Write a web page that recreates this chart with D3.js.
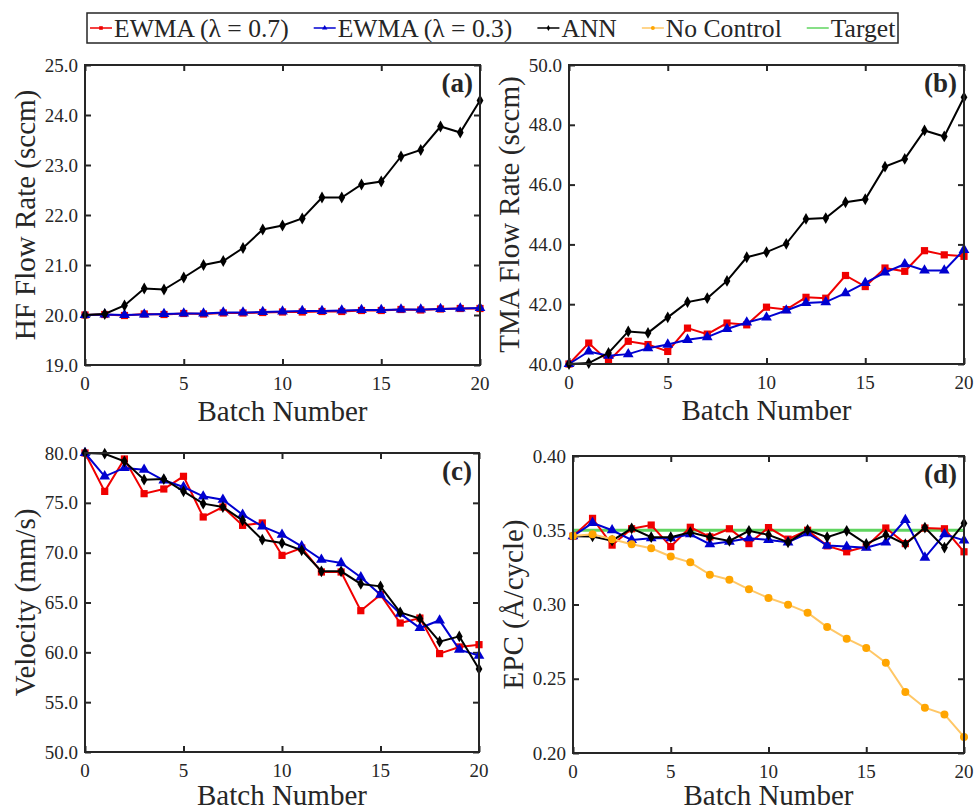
<!DOCTYPE html>
<html>
<head>
<meta charset="utf-8">
<script src="https://cdn.jsdelivr.net/npm/d3@7"></script>
<style>
  body { margin: 0; background: #fff; }
  svg { display: block; }
  text { font-family: 'Liberation Serif', 'Times New Roman', serif; fill: #262626; }
</style>
</head>
<body>
<div id="chart-area"></div>
<script>
// batch numbers shared by all panels
var batches = [0, 1, 2, 3, 4, 5, 6, 7, 8, 9, 10, 11, 12, 13, 14, 15, 16, 17, 18, 19, 20]
var xTicks = [0, 5, 10, 15, 20]

// (a) HF flow rate
var hfEwma07 = [20.0, 20.01, 19.99, 20.02, 20.01, 20.03, 20.02, 20.04, 20.04, 20.05, 20.06, 20.06, 20.07, 20.07, 20.09, 20.09, 20.11, 20.10, 20.12, 20.13, 20.13]
var hfEwma03 = [20.0, 20.01, 20.0, 20.01, 20.02, 20.03, 20.03, 20.05, 20.05, 20.06, 20.07, 20.08, 20.08, 20.09, 20.10, 20.10, 20.11, 20.11, 20.12, 20.13, 20.14]
var hfAnn = [20.0, 20.02, 20.19, 20.53, 20.51, 20.75, 21.0, 21.08, 21.34, 21.71, 21.79, 21.93, 22.35, 22.35, 22.61, 22.67, 23.17, 23.3, 23.77, 23.65, 24.29]
var hfTicks = [19, 20, 21, 22, 23, 24, 25]

// (b) TMA flow rate
var tmaEwma07 = [40.0, 40.7, 40.09, 40.76, 40.65, 40.42, 41.2, 41.0, 41.37, 41.31, 41.9, 41.82, 42.23, 42.2, 42.96, 42.59, 43.21, 43.1, 43.79, 43.65, 43.6]
var tmaEwma03 = [40.0, 40.42, 40.28, 40.33, 40.53, 40.65, 40.81, 40.9, 41.17, 41.39, 41.56, 41.79, 42.04, 42.07, 42.37, 42.71, 43.06, 43.34, 43.13, 43.13, 43.82]
var tmaAnn = [40.0, 40.03, 40.37, 41.09, 41.04, 41.56, 42.07, 42.2, 42.78, 43.57, 43.74, 44.02, 44.85, 44.88, 45.41, 45.51, 46.6, 46.86, 47.81, 47.61, 48.92]
var tmaTicks = [40, 42, 44, 46, 48, 50]

// (c) velocity
var velEwma07 = [80.0, 76.15, 79.4, 75.92, 76.39, 77.66, 73.58, 74.58, 72.74, 72.98, 69.73, 70.47, 68.06, 68.06, 64.18, 65.79, 62.94, 63.44, 59.87, 60.54, 60.77]
var velEwma03 = [80.0, 77.66, 78.5, 78.33, 77.26, 76.59, 75.65, 75.32, 73.81, 72.64, 71.81, 70.64, 69.3, 68.96, 67.53, 65.79, 63.88, 62.44, 63.21, 60.27, 59.67]
var velAnn = [80.0, 79.93, 79.16, 77.32, 77.39, 76.15, 74.92, 74.58, 73.24, 71.3, 70.97, 70.23, 68.13, 68.13, 66.86, 66.62, 64.01, 63.38, 61.07, 61.6, 58.33]
var velTicks = [50, 55, 60, 65, 70, 75, 80]

// (d) EPC
var epcEwma07 = [0.346, 0.358, 0.340, 0.351, 0.3535, 0.339, 0.352, 0.3455, 0.351, 0.341, 0.3518, 0.344, 0.350, 0.3395, 0.3355, 0.339, 0.3515, 0.341, 0.3515, 0.351, 0.3355]
var epcEwma03 = [0.346, 0.355, 0.350, 0.3435, 0.3446, 0.3446, 0.3473, 0.3406, 0.3424, 0.3446, 0.3435, 0.3419, 0.348, 0.3397, 0.339, 0.3383, 0.3419, 0.357, 0.3316, 0.3473, 0.3432]
var epcAnn = [0.346, 0.3458, 0.343, 0.3513, 0.3453, 0.3453, 0.3487, 0.3453, 0.3428, 0.3496, 0.3469, 0.3419, 0.3502, 0.3453, 0.3496, 0.3408, 0.3469, 0.3406, 0.3518, 0.3383, 0.3547]
var epcNoControl = [0.3462, 0.3473, 0.344, 0.3406, 0.3379, 0.3323, 0.3284, 0.3201, 0.3167, 0.3102, 0.3044, 0.2999, 0.2945, 0.2848, 0.277, 0.2707, 0.2608, 0.2411, 0.2305, 0.226, 0.2108]
var epcTarget = 0.35
var epcTicks = [0.20, 0.25, 0.30, 0.35, 0.40]

var legendNames = ['EWMA (\u03bb = 0.7)', 'EWMA (\u03bb = 0.3)', 'ANN', 'No Control', 'Target']

var styles = {
  ewma07: { color: '#f00000', symbol: d3.symbolSquare, size: 52 },
  ewma03: { color: '#0000d0', symbol: d3.symbolTriangle, size: 50 },
  ann: { color: '#000000', symbol: d3.symbolDiamond, size: 40 },
  none: { color: '#ffa500', symbol: d3.symbolCircle, size: 50, lineColor: '#ffc766' }
}

var svg = d3.select('#chart-area').append('svg')
    .attr('width', 974)
    .attr('height', 812)

var panels = [
  { label: '(a)', title: 'HF Flow Rate (sccm)', box: [85, 65, 480, 365], domain: [19, 25], ticks: hfTicks, fmt: '.1f',
    series: [['ewma07', hfEwma07], ['ewma03', hfEwma03], ['ann', hfAnn]] },
  { label: '(b)', title: 'TMA Flow Rate (sccm)', box: [569, 65, 964, 364], domain: [40, 50], ticks: tmaTicks, fmt: '.1f',
    series: [['ewma07', tmaEwma07], ['ewma03', tmaEwma03], ['ann', tmaAnn]] },
  { label: '(c)', title: 'Velocity (mm/s)', box: [85, 453, 479, 752], domain: [50, 80], ticks: velTicks, fmt: '.1f',
    series: [['ewma07', velEwma07], ['ewma03', velEwma03], ['ann', velAnn]] },
  { label: '(d)', title: 'EPC (\u00c5/cycle)', box: [573, 456, 964, 753], domain: [0.20, 0.40], ticks: epcTicks, fmt: '.2f',
    target: epcTarget,
    series: [['ewma07', epcEwma07], ['ewma03', epcEwma03], ['ann', epcAnn], ['none', epcNoControl]] }
]

panels.forEach(drawPanel)

function drawPanel(p) {
  var left = p.box[0], top = p.box[1], right = p.box[2], bottom = p.box[3]
  var x = d3.scaleLinear().domain([0, 20]).range([left, right])
  var y = d3.scaleLinear().domain(p.domain).range([bottom, top])
  var g = svg.append('g')

  var tickLen = 6
  // inward ticks on all four sides
  g.append('g').attr('transform', `translate(0, ${bottom})`)
    .call(d3.axisTop(x).tickValues(xTicks).tickSize(tickLen).tickFormat(''))
  g.append('g').attr('transform', `translate(0, ${top})`)
    .call(d3.axisBottom(x).tickValues(xTicks).tickSize(tickLen).tickFormat(''))
  g.append('g').attr('transform', `translate(${left}, 0)`)
    .call(d3.axisRight(y).tickValues(p.ticks).tickSize(tickLen).tickFormat(''))
  g.append('g').attr('transform', `translate(${right}, 0)`)
    .call(d3.axisLeft(y).tickValues(p.ticks).tickSize(tickLen).tickFormat(''))
  g.selectAll('.domain').remove()
  g.selectAll('.tick line').attr('stroke', '#262626').attr('stroke-width', 2)

  // tick labels
  g.selectAll('.xlab').data(xTicks).enter().append('text')
    .attr('x', d => x(d)).attr('y', bottom + 25)
    .attr('text-anchor', 'middle').attr('font-size', '19px')
    .text(d => d)
  g.selectAll('.ylab').data(p.ticks).enter().append('text')
    .attr('x', left - 7).attr('y', d => y(d)).attr('dy', '0.35em')
    .attr('text-anchor', 'end').attr('font-size', '19px')
    .text(d => d3.format(p.fmt)(d))

  var plot = g.append('g')

  if (p.target != null) {
    plot.append('line')
      .attr('x1', x(0)).attr('x2', x(20))
      .attr('y1', y(p.target)).attr('y2', y(p.target))
      .attr('stroke', '#5fd45f').attr('stroke-width', 3)
  }

  var line = d3.line().x((d, i) => x(batches[i])).y(d => y(d))
  p.series.forEach(s => {
    var st = styles[s[0]]
    var data = s[1]
    plot.append('path').datum(data)
      .attr('fill', 'none')
      .attr('stroke', st.lineColor || st.color)
      .attr('stroke-width', 2)
      .attr('d', line)
    plot.selectAll(null).data(data).enter().append('path')
      .attr('d', d3.symbol().type(st.symbol).size(st.size))
      .attr('transform', (d, i) => `translate(${x(batches[i])}, ${y(d)})`)
      .attr('fill', st.color)
  })

  // frame
  g.append('rect')
    .attr('x', left).attr('y', top)
    .attr('width', right - left).attr('height', bottom - top)
    .attr('fill', 'none').attr('stroke', '#262626').attr('stroke-width', 2)

  g.append('text')
    .attr('x', right - 7).attr('y', top + 27)
    .attr('text-anchor', 'end').attr('font-size', '27px').attr('font-weight', 'bold')
    .attr('fill', '#111')
    .text(p.label)

  g.append('text')
    .attr('x', (left + right) / 2).attr('y', Math.min(bottom + 56, 805))
    .attr('text-anchor', 'middle').attr('font-size', '29px')
    .text('Batch Number')

  g.append('text')
    .attr('transform', `translate(${left - 50}, ${(top + bottom) / 2}) rotate(-90)`)
    .attr('text-anchor', 'middle').attr('font-size', '29px')
    .text(p.title)
}

// legend
var legend = svg.append('g')
legend.append('rect')
  .attr('x', 87).attr('y', 13).attr('width', 811).attr('height', 30)
  .attr('fill', '#fff').attr('stroke', '#262626').attr('stroke-width', 1.5)

var legendKeys = ['ewma07', 'ewma03', 'ann', 'none', 'target']
var lx = 90
legendKeys.forEach((k, i) => {
  var st = styles[k]
  var col = st ? (st.lineColor || st.color) : '#5fd45f'
  legend.append('line')
    .attr('x1', lx).attr('x2', lx + 22).attr('y1', 28).attr('y2', 28)
    .attr('stroke', col).attr('stroke-width', 1.5)
  if (st) {
    legend.append('path')
      .attr('d', d3.symbol().type(st.symbol).size(st.size * 0.25))
      .attr('transform', `translate(${lx + 11}, 28)`)
      .attr('fill', st.color)
  }
  var t = legend.append('text')
    .attr('x', lx + 24).attr('y', 37)
    .attr('font-size', '25.6px')
    .attr('fill', '#111')
    .text(legendNames[i])
  lx = lx + 24 + t.node().getComputedTextLength() + 25
})
</script>
</body>
</html>
